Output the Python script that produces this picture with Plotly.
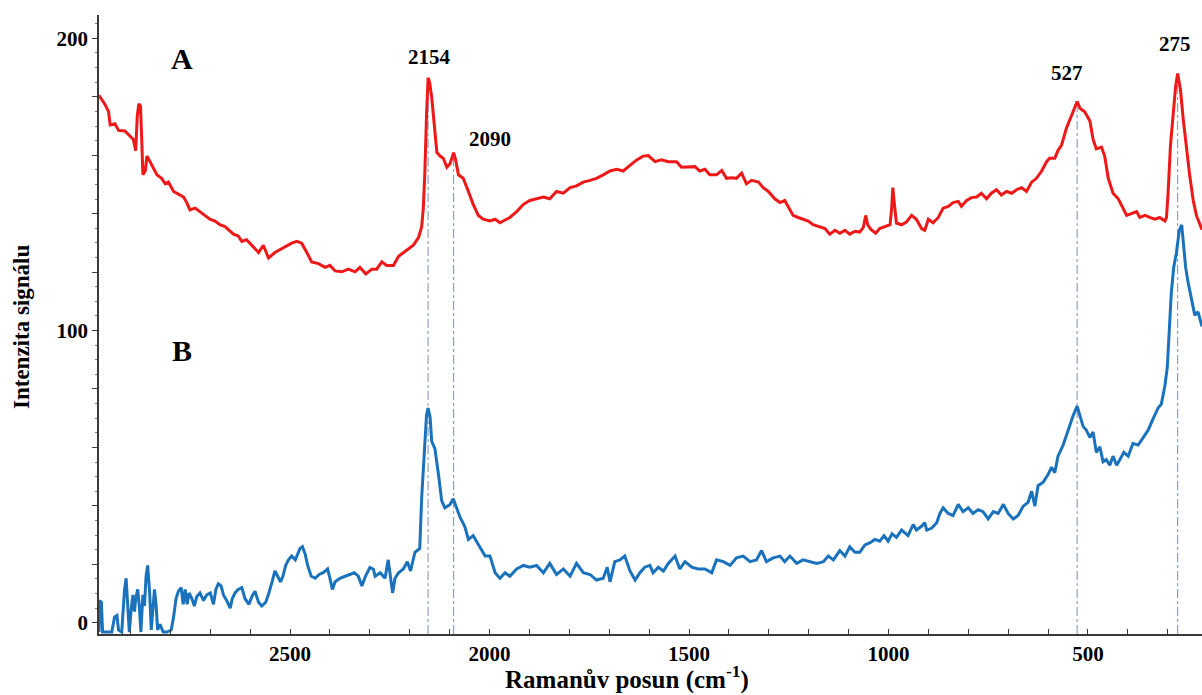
import plotly.graph_objects as go

# Raman spectra: (wavenumber cm-1, signal intensity)
spectrum_a = [
    (2979, 180.5), (2976, 179.9), (2964, 177.4), (2955, 174.9), (2951, 170.4), (2939, 170.8),
    (2930, 168.5), (2914, 168.3), (2901, 166.6), (2893, 165.4), (2887, 161.6), (2883, 173.6),
    (2879, 177.6), (2875, 176.8), (2872, 166.0), (2869, 153.3), (2863, 154.6), (2859, 159.7),
    (2851, 157.8), (2843, 155.9), (2834, 153.3), (2822, 152.1), (2813, 150.2), (2805, 150.8),
    (2792, 147.6), (2780, 146.7), (2767, 145.7), (2759, 143.8), (2751, 141.3), (2738, 141.9),
    (2726, 140.7), (2713, 139.4), (2701, 138.1), (2688, 137.5), (2676, 136.2), (2663, 135.6),
    (2650, 134.1), (2642, 133.0), (2630, 132.4), (2621, 130.5), (2609, 131.1), (2596, 129.2),
    (2579, 126.7), (2567, 129.2), (2554, 124.8), (2538, 126.7), (2521, 128.0), (2508, 129.2),
    (2496, 129.9), (2483, 130.5), (2471, 129.9), (2458, 126.7), (2446, 123.5), (2429, 122.9),
    (2412, 121.6), (2400, 122.3), (2387, 120.4), (2370, 120.1), (2354, 121.0), (2337, 120.1),
    (2325, 121.6), (2310, 119.4), (2295, 121.0), (2283, 121.0), (2270, 123.5), (2258, 122.3),
    (2241, 122.3), (2228, 125.4), (2216, 126.7), (2203, 128.0), (2191, 129.2), (2178, 131.8),
    (2170, 135.6), (2166, 141.9), (2162, 154.6), (2158, 173.6), (2154, 186.5), (2150, 184.8),
    (2145, 179.9), (2139, 171.1), (2132, 160.9), (2124, 159.7), (2116, 159.0), (2107, 155.9),
    (2099, 157.1), (2090, 160.9), (2085, 158.4), (2078, 153.3), (2066, 152.1), (2053, 147.6),
    (2041, 143.2), (2028, 139.4), (2016, 138.1), (1999, 137.5), (1986, 138.1), (1974, 136.9),
    (1961, 137.9), (1949, 138.7), (1932, 140.7), (1915, 143.2), (1899, 144.5), (1882, 145.1),
    (1865, 145.7), (1849, 145.1), (1832, 147.6), (1815, 147.0), (1798, 148.9), (1782, 149.5),
    (1765, 150.8), (1748, 151.4), (1732, 152.1), (1715, 153.3), (1698, 154.6), (1681, 155.2),
    (1665, 154.6), (1648, 156.5), (1631, 158.4), (1615, 159.7), (1602, 159.9), (1585, 157.8),
    (1569, 158.4), (1552, 157.8), (1531, 157.8), (1519, 155.9), (1502, 155.9), (1485, 156.1),
    (1473, 154.6), (1460, 155.2), (1448, 153.3), (1431, 153.3), (1418, 154.8), (1406, 152.1),
    (1393, 152.3), (1381, 152.1), (1368, 153.9), (1356, 150.2), (1343, 151.4), (1326, 150.8),
    (1314, 148.9), (1301, 147.6), (1285, 145.1), (1272, 143.8), (1260, 144.5), (1247, 141.3),
    (1239, 139.4), (1226, 138.7), (1214, 138.1), (1201, 137.5), (1189, 136.2), (1176, 135.6),
    (1159, 134.9), (1147, 133.0), (1134, 134.3), (1122, 133.3), (1109, 134.3), (1097, 133.0),
    (1084, 134.0), (1072, 133.7), (1063, 135.3), (1057, 139.4), (1052, 136.2), (1044, 134.6),
    (1032, 133.3), (1022, 134.9), (1009, 135.6), (996, 136.2), (992, 141.9), (989, 148.9),
    (986, 144.5), (980, 136.8), (967, 136.2), (955, 137.1), (942, 139.4), (930, 138.1),
    (917, 134.9), (909, 134.3), (900, 138.1), (888, 136.9), (875, 138.7), (863, 141.9),
    (850, 142.5), (838, 143.8), (825, 144.2), (817, 142.5), (804, 144.5), (792, 145.5),
    (779, 145.7), (767, 147.0), (754, 145.1), (742, 147.0), (729, 148.2), (717, 146.4),
    (704, 147.6), (691, 147.0), (679, 148.2), (666, 148.9), (654, 147.6), (641, 150.8),
    (629, 152.1), (616, 154.6), (604, 157.7), (596, 159.0), (583, 159.0), (575, 161.6),
    (566, 163.5), (554, 169.2), (541, 173.6), (533, 176.8), (527, 178.4), (520, 176.1),
    (508, 174.9), (495, 171.7), (487, 165.4), (479, 162.2), (466, 162.8), (458, 159.7),
    (449, 152.1), (437, 147.0), (424, 145.1), (412, 141.9), (403, 139.4), (391, 140.0),
    (378, 140.7), (370, 138.7), (357, 139.4), (345, 138.7), (332, 138.1), (320, 138.7),
    (307, 137.5), (303, 138.7), (299, 147.0), (293, 163.5), (286, 173.6), (280, 183.7),
    (275, 188.0), (268, 182.4), (261, 172.3), (253, 162.2), (245, 153.3), (236, 144.5),
    (228, 139.4), (214, 134.5),
]

spectrum_b = [
    (2979, -3.2), (2977, 7.6), (2973, 7.0), (2970, -3.2), (2947, -3.2), (2940, 1.9),
    (2934, 2.5), (2930, -2.5), (2922, -3.2), (2915, 11.4), (2911, 15.2), (2908, 6.3),
    (2903, -3.2), (2898, 5.0), (2894, 9.5), (2890, 3.8), (2887, 8.2), (2882, 11.4),
    (2878, 5.7), (2874, -3.2), (2869, 9.5), (2865, 5.7), (2861, 15.9), (2857, 19.6),
    (2852, 10.2), (2848, -2.5), (2845, 3.8), (2840, 11.4), (2836, 6.3), (2832, -2.5),
    (2826, -0.6), (2818, -3.2), (2809, -3.2), (2798, -2.5), (2792, 1.9), (2786, 8.2),
    (2780, 10.8), (2773, 12.0), (2768, 6.3), (2763, 11.4), (2758, 6.3), (2753, 10.2),
    (2746, 8.2), (2740, 5.7), (2734, 8.9), (2726, 10.2), (2717, 7.6), (2709, 9.5),
    (2700, 10.2), (2692, 6.3), (2686, 11.4), (2680, 13.3), (2673, 12.6), (2667, 9.5),
    (2659, 7.6), (2650, 5.0), (2645, 8.2), (2638, 10.2), (2630, 11.4), (2621, 12.0),
    (2613, 8.2), (2603, 6.3), (2596, 8.9), (2588, 10.8), (2579, 7.0), (2571, 5.7),
    (2561, 7.0), (2553, 10.2), (2544, 14.6), (2538, 17.7), (2531, 15.9), (2524, 14.0),
    (2518, 15.9), (2511, 19.6), (2504, 21.5), (2496, 22.8), (2487, 21.5), (2481, 23.4),
    (2475, 25.4), (2469, 26.0), (2462, 23.4), (2456, 19.6), (2447, 15.9), (2437, 15.2),
    (2427, 16.5), (2417, 17.1), (2406, 18.4), (2400, 15.2), (2394, 11.4), (2387, 14.0),
    (2375, 15.2), (2362, 15.9), (2350, 16.5), (2339, 17.1), (2329, 15.9), (2320, 12.6),
    (2311, 15.9), (2300, 18.9), (2291, 18.3), (2287, 15.9), (2274, 17.1), (2262, 15.2),
    (2254, 21.5), (2248, 15.2), (2243, 10.2), (2237, 15.2), (2228, 17.1), (2216, 18.4),
    (2206, 20.9), (2198, 17.7), (2187, 24.1), (2175, 25.4), (2170, 43.1), (2164, 57.0),
    (2158, 71.0), (2154, 73.5), (2149, 70.3), (2145, 62.1), (2137, 59.6), (2128, 50.7),
    (2120, 41.8), (2112, 39.3), (2099, 40.5), (2091, 42.4), (2082, 38.7), (2074, 36.1),
    (2062, 32.9), (2053, 28.5), (2041, 29.8), (2028, 26.6), (2011, 22.8), (1999, 22.8),
    (1986, 17.1), (1974, 15.2), (1961, 17.1), (1949, 15.9), (1932, 18.4), (1915, 19.6),
    (1899, 19.0), (1882, 19.6), (1865, 17.1), (1849, 20.3), (1832, 16.5), (1815, 18.4),
    (1798, 15.9), (1782, 20.3), (1765, 17.1), (1748, 16.5), (1732, 14.6), (1715, 15.2),
    (1705, 19.0), (1698, 14.0), (1686, 20.9), (1673, 21.5), (1661, 22.8), (1648, 17.7),
    (1635, 14.6), (1623, 17.1), (1611, 19.0), (1598, 19.6), (1590, 17.1), (1577, 19.0),
    (1564, 17.7), (1552, 20.3), (1535, 22.8), (1523, 18.4), (1510, 20.9), (1493, 19.0),
    (1477, 18.4), (1460, 18.4), (1443, 17.1), (1431, 21.5), (1414, 20.9), (1397, 19.6),
    (1381, 22.2), (1364, 22.8), (1347, 20.9), (1331, 21.5), (1318, 24.7), (1306, 20.9),
    (1289, 22.2), (1272, 22.8), (1260, 20.9), (1247, 22.8), (1230, 20.3), (1214, 21.5),
    (1197, 20.9), (1180, 20.3), (1163, 20.9), (1151, 22.8), (1138, 21.5), (1122, 24.7),
    (1109, 22.8), (1097, 26.0), (1084, 24.1), (1072, 24.1), (1059, 26.6), (1047, 27.3),
    (1034, 28.5), (1022, 27.9), (1011, 29.8), (1001, 27.9), (991, 30.4), (980, 29.2),
    (967, 31.7), (951, 29.8), (938, 33.6), (930, 31.7), (917, 33.0), (909, 34.2),
    (904, 31.7), (892, 32.3), (879, 34.2), (871, 37.4), (863, 39.3), (850, 37.4),
    (838, 36.7), (825, 40.5), (813, 38.0), (800, 39.3), (788, 37.4), (775, 38.7),
    (763, 38.0), (750, 35.5), (737, 38.0), (725, 37.4), (712, 40.5), (700, 37.4),
    (687, 35.5), (675, 36.7), (662, 39.9), (650, 41.2), (641, 45.0), (633, 39.9),
    (625, 46.9), (612, 48.1), (600, 50.7), (591, 53.2), (583, 51.3), (575, 57.0),
    (562, 60.8), (550, 65.9), (537, 70.9), (527, 74.1), (520, 70.9), (512, 67.2),
    (504, 65.9), (495, 63.4), (487, 65.3), (479, 58.3), (470, 60.2), (462, 55.1),
    (454, 55.8), (445, 53.9), (437, 57.0), (428, 53.9), (420, 55.8), (410, 58.3),
    (399, 57.0), (387, 61.4), (374, 60.8), (362, 63.4), (349, 65.9), (337, 69.7),
    (324, 73.5), (316, 74.8), (307, 81.1), (301, 87.4), (296, 101.4), (291, 112.8),
    (285, 121.6), (278, 126.7), (271, 134.3), (265, 136.2), (261, 130.5), (255, 121.6),
    (249, 116.6), (240, 110.2), (232, 105.2), (224, 106.4), (214, 101.4),
]

# Marked bands, the heights where their guide lines start, and label placement
peak_positions = [2154, 2090, 527, 275]
peak_heights = [186.5, 160.9, 178.4, 188.0]
peak_label_x = [2150, 2000, 553, 282]
peak_label_y = [193.5, 165.5, 188.0, 198.0]

x_major = [2500, 2000, 1500, 1000, 500]
y_major = [0, 100, 200]

a_wn, a_int = zip(*spectrum_a)
b_wn, b_int = zip(*spectrum_b)

X_RANGE = [2979, 214]
Y_RANGE = [-3.87, 208.0]
SERIF = "Liberation Serif, Times New Roman, serif"

fig = go.Figure()
fig.add_trace(go.Scatter(x=list(a_wn), y=list(a_int), mode="lines",
                         line=dict(color="#ee1818", width=3), name="A"))
fig.add_trace(go.Scatter(x=list(b_wn), y=list(b_int), mode="lines",
                         line=dict(color="#1a72bd", width=3), name="B"))

# Dash-dot guides from each band maximum down to the axis
for pos, h in zip(peak_positions, peak_heights):
    fig.add_shape(type="line", xref="x", yref="y", x0=pos, x1=pos,
                  y0=Y_RANGE[0], y1=h,
                  line=dict(color="#7d8fb3", width=1, dash="dashdot"), layer="below")

for pos, lx, ly in zip(peak_positions, peak_label_x, peak_label_y):
    fig.add_annotation(x=lx, y=ly, xref="x", yref="y", text=str(pos),
                       showarrow=False,
                       font=dict(family=SERIF, size=21, color="black", weight="bold"))

for label, lx, ly in [("A", 2770, 193.0), ("B", 2770, 93.0)]:
    fig.add_annotation(x=lx, y=ly, xref="x", yref="y", text=label, showarrow=False,
                       font=dict(family=SERIF, size=30, color="black", weight="bold"))

# Axis titles
fig.add_annotation(x=0.4787, y=-0.071, xref="paper", yref="paper",
                   text="Ramanův posun (cm<sup>-1</sup>)", showarrow=False,
                   xanchor="center", yanchor="middle",
                   font=dict(family=SERIF, size=25, color="black", weight="bold"))
fig.add_annotation(x=-0.0698, y=0.496, xref="paper", yref="paper",
                   text="Intenzita signálu", showarrow=False, textangle=-90,
                   xanchor="center", yanchor="middle",
                   font=dict(family=SERIF, size=23, color="black", weight="bold"))

x_ticks = list(range(300, 2901, 100))
y_ticks = list(range(0, 201, 20))

fig.update_layout(
    width=1202, height=695,
    margin=dict(l=99, r=0, t=15, b=61),
    paper_bgcolor="white", plot_bgcolor="white",
    showlegend=False,
    xaxis=dict(
        range=X_RANGE, showgrid=False, zeroline=False,
        showline=True, linecolor="#3a3a3a", linewidth=1.5,
        ticks="inside", ticklen=5, tickcolor="#3a3a3a", tickwidth=1,
        tickvals=x_ticks,
        ticktext=[str(v) if v in x_major else "" for v in x_ticks],
        tickfont=dict(family=SERIF, size=21, color="black", weight="bold"),
    ),
    yaxis=dict(
        range=Y_RANGE, showgrid=False, zeroline=False,
        showline=True, linecolor="#3a3a3a", linewidth=1.5,
        ticks="outside", ticklen=5, tickcolor="#3a3a3a", tickwidth=1,
        tickvals=y_ticks,
        ticktext=[str(v) if v in y_major else "" for v in y_ticks],
        tickfont=dict(family=SERIF, size=21, color="black", weight="bold"),
        minor=dict(dtick=5, ticks="outside", ticklen=2, tickcolor="#777777"),
    ),
)

fig.write_html("out.html")
